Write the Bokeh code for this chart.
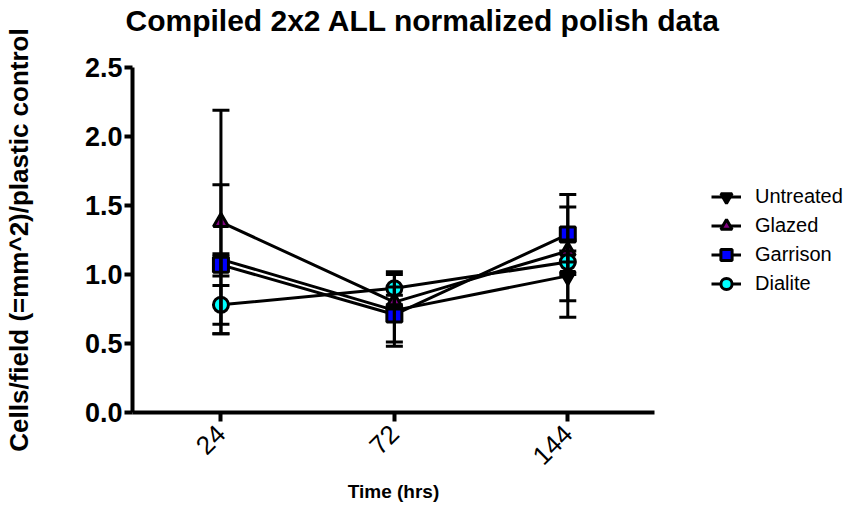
import math
from bokeh.plotting import figure
from bokeh.models import (Range1d, FixedTicker, Legend, LegendItem, Whisker, TeeHead,
                          ColumnDataSource, Title)
from bokeh.embed import file_html
from bokeh.resources import INLINE

# ---- data ----
time_labels = ["24", "72", "144"]
x_pos = [1, 2, 3]

untreated = [1.11, 0.74, 0.99]
untreated_err = [0.54, 0.26, 0.18]
glazed = [1.38, 0.80, 1.17]
glazed_err = [0.81, 0.05, 0.08]
garrison = [1.07, 0.71, 1.29]
garrison_err = [0.08, 0.20, 0.29]
dialite = [0.78, 0.90, 1.09]
dialite_err = [0.14, 0.12, 0.40]

series_names = ["Untreated", "Glazed", "Garrison", "Dialite"]
series_vals = [untreated, glazed, garrison, dialite]
series_errs = [untreated_err, glazed_err, garrison_err, dialite_err]
series_markers = ["inverted_triangle", "triangle", "square", "circle"]
series_fills = ["black", "#800080", "#0000FF", "#00FFFF"]

FONT = "Liberation Sans"

p = figure(frame_width=522, frame_height=345, output_backend="svg", toolbar_location=None,
           x_range=Range1d(0.49, 3.5), y_range=Range1d(0, 2.5),
           min_border_left=132, min_border_right=190, min_border_top=67,
           min_border_bottom=94)
p.background_fill_color = "white"
p.border_fill_color = "white"
p.outline_line_color = None
p.xgrid.grid_line_color = None
p.ygrid.grid_line_color = None

# title (spacer title keeps the real one near the top edge)
p.title = Title(text="Compiled 2x2 ALL normalized polish data", text_font=FONT,
                text_font_style="bold", text_font_size="30px", text_color="black",
                align="left", offset=-7, standoff=0)
p.add_layout(Title(text=" ", text_font_size="22px", standoff=4), "above")

# axes
for ax in (p.xaxis[0], p.yaxis[0]):
    ax.axis_line_width = 4
    ax.axis_line_color = "black"
    ax.major_tick_line_width = 4
    ax.major_tick_line_color = "black"
    ax.major_tick_in = 0
    ax.minor_tick_line_color = None

p.yaxis.ticker = FixedTicker(ticks=[0, 0.5, 1.0, 1.5, 2.0, 2.5])
p.yaxis.major_label_overrides = {0: "0.0", 0.5: "0.5", 1.0: "1.0", 1.5: "1.5", 2.0: "2.0", 2.5: "2.5"}
p.yaxis.major_tick_out = 8
p.yaxis.major_label_standoff = 2
p.yaxis.major_label_text_font = FONT
p.yaxis.major_label_text_font_style = "bold"
p.yaxis.major_label_text_font_size = "27px"
p.yaxis.major_label_text_color = "black"
p.yaxis.axis_label = "Cells/field (=mm^2)/plastic control"
p.yaxis.axis_label_text_font = FONT
p.yaxis.axis_label_text_font_style = "bold"
p.yaxis.axis_label_text_font_size = "26px"
p.yaxis.axis_label_text_color = "black"
p.yaxis.axis_label_standoff = 48

p.xaxis.ticker = FixedTicker(ticks=x_pos)
p.xaxis.major_label_overrides = {x: t for x, t in zip(x_pos, time_labels)}
p.xaxis.major_tick_out = 9
p.xaxis.major_label_standoff = 8
p.xaxis.major_label_orientation = math.pi / 4
p.xaxis.major_label_text_font = FONT
p.xaxis.major_label_text_font_size = "26px"
p.xaxis.major_label_text_color = "black"
p.xaxis.axis_label = "Time (hrs)"
p.xaxis.axis_label_text_font = FONT
p.xaxis.axis_label_text_font_style = "bold"
p.xaxis.axis_label_text_font_size = "19px"
p.xaxis.axis_label_text_color = "black"
p.xaxis.axis_label_standoff = 5

legend_items = []
for name, vals, errs, mk, fill in zip(series_names, series_vals, series_errs,
                                      series_markers, series_fills):
    src = ColumnDataSource(dict(
        x=x_pos, y=vals,
        upper=[v + e for v, e in zip(vals, errs)],
        lower=[v - e for v, e in zip(vals, errs)],
    ))
    lr = p.line("x", "y", source=src, line_color="black", line_width=3)
    sr = p.scatter("x", "y", source=src, marker=mk, size=15, fill_color=fill,
                   line_color="black", line_width=3)
    w = Whisker(base="x", upper="upper", lower="lower", source=src,
                dimension="height", line_color="black", line_width=3,
                upper_head=TeeHead(size=17, line_width=3, line_color="black"),
                lower_head=TeeHead(size=17, line_width=3, line_color="black"),
                level="overlay")
    p.add_layout(w)
    legend_items.append(LegendItem(label=name, renderers=[lr, sr]))

legend = Legend(items=legend_items, location="left", glyph_width=30, glyph_height=28,
                label_height=28, spacing=1, label_standoff=14, padding=0, margin=57,
                border_line_color=None, background_fill_alpha=0,
                label_text_font=FONT, label_text_font_size="20px",
                label_text_color="black")
p.add_layout(legend, "right")

open("out.html", "w").write(file_html(p, INLINE))
